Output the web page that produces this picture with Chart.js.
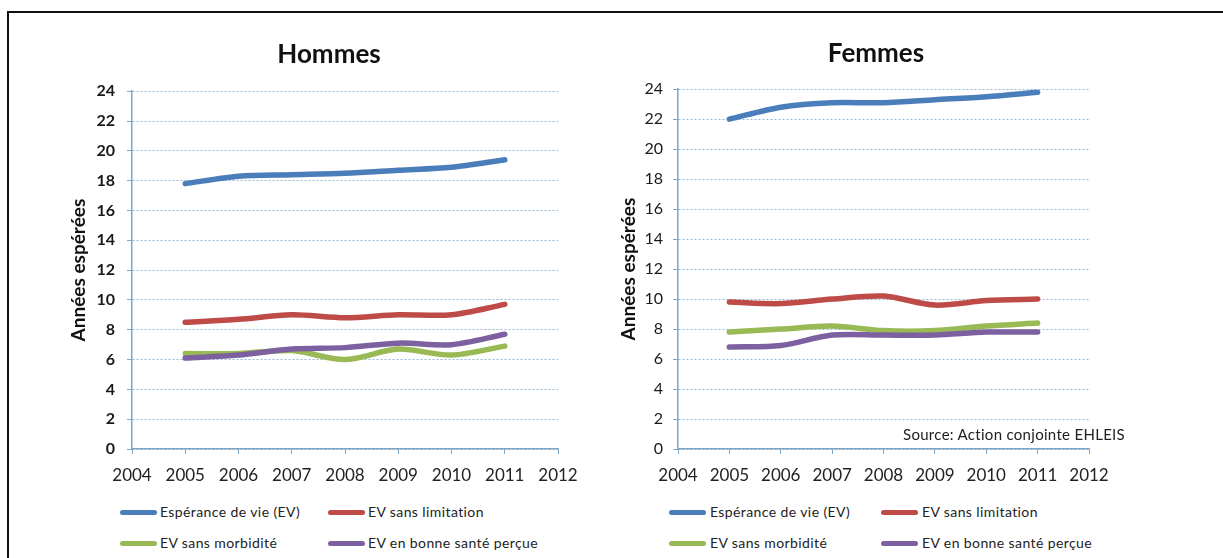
<!DOCTYPE html>
<html>
<head>
<meta charset="utf-8">
<script src="https://cdn.jsdelivr.net/npm/chart.js@4"></script>
<style>
  html, body { margin: 0; padding: 0; background: #fff; width: 1223px; height: 558px; overflow: hidden; }
  #frame { position: absolute; left: 7px; top: 11px; width: 1300px; height: 600px; border-top: 2px solid #111; border-left: 2px solid #111; }
  canvas { position: absolute; }
  .leg { position: absolute; font-family: Lato, "Liberation Sans", sans-serif; font-size: 14px; letter-spacing: 0.4px; color: #222; white-space: nowrap; }
  .sw { position: absolute; height: 5px; border-radius: 3px; }
  #source { position: absolute; left: 903px; top: 425px; font-family: Lato, "Liberation Sans", sans-serif; font-size: 15px; letter-spacing: 0.3px; color: #222; white-space: nowrap; }
</style>
</head>
<body>
<div id="frame"></div>
<canvas id="cH" width="591" height="490" style="left:0px;top:0px;width:591px;height:490px"></canvas>
<canvas id="cF" width="524" height="490" style="left:611px;top:0px;width:524px;height:490px"></canvas>
<div id="source">Source: Action conjointe EHLEIS</div>
<div id="legends"></div>
<script>
const years = [2005, 2006, 2007, 2008, 2009, 2010, 2011];
const seriesNames = ["Espérance de vie (EV)", "EV sans limitation", "EV sans morbidité", "EV en bonne santé perçue"];
const seriesColors = ["#4a7ebb", "#be4b48", "#98b954", "#7d60a0"];

const hommesEV      = [17.8, 18.3, 18.4, 18.5, 18.7, 18.9, 19.4];
const hommesSansLim = [8.5, 8.7, 9.0, 8.8, 9.0, 9.0, 9.7];
const hommesSansMor = [6.4, 6.4, 6.6, 6.0, 6.7, 6.3, 6.9];
const hommesBonne   = [6.1, 6.3, 6.7, 6.8, 7.1, 7.0, 7.7];

const femmesEV      = [22.0, 22.8, 23.1, 23.1, 23.3, 23.5, 23.8];
const femmesSansLim = [9.8, 9.7, 10.0, 10.2, 9.6, 9.9, 10.0];
const femmesSansMor = [7.8, 8.0, 8.2, 7.9, 7.9, 8.2, 8.4];
const femmesBonne   = [6.8, 6.9, 7.6, 7.6, 7.6, 7.8, 7.8];

const xMin = 2004, xMax = 2012;
const yMin = 0, yMax = 24, yStep = 2;

const FONT = "Lato, 'Liberation Sans', sans-serif";
const axisColor = "#7fa6c6";
const gridColor = "#93b9d6";

function makeDatasets(arrs) {
  return arrs.map((vals, i) => ({
    label: seriesNames[i],
    data: years.map((yr, k) => ({ x: yr, y: vals[k] })),
    borderColor: seriesColors[i],
    backgroundColor: seriesColors[i],
    borderWidth: 5.5,
    pointRadius: 0,
    tension: 0.3,
    borderCapStyle: 'round',
    borderJoinStyle: 'round',
    fill: false
  })).reverse();
}

function makeChart(id, title, arrs, cfg) {
  return new Chart(document.getElementById(id), {
    type: 'line',
    data: { datasets: makeDatasets(arrs) },
    options: {
      responsive: false,
      animation: false,
      layout: { padding: { left: cfg.padLeft, right: 0, top: 0, bottom: 0 } },
      plugins: {
        legend: { display: false },
        tooltip: { enabled: false },
        title: {
          display: true, text: title, color: '#111',
          font: { family: FONT, size: 26, weight: 'bold' },
          padding: { top: cfg.titleTop, bottom: cfg.titleBottom }
        }
      },
      scales: {
        x: {
          type: 'linear', min: xMin, max: xMax,
          afterFit: s => { s.height = 41; },
          ticks: { stepSize: 1, color: '#222', padding: 11, font: { family: FONT, size: 17 }, callback: v => String(v) },
          grid: { drawOnChartArea: false, drawTicks: true, tickLength: 5, tickColor: axisColor },
          border: { display: true, color: axisColor, width: 1.5 }
        },
        y: {
          min: yMin, max: yMax,
          afterFit: s => { s.width = cfg.yWidth; },
          ticks: { stepSize: yStep, color: '#1a1a1a', padding: cfg.tickPad, font: { family: FONT, size: 16, weight: cfg.tickWeight } },
          grid: { color: gridColor, lineWidth: 1, tickLength: 5, tickColor: axisColor, tickBorderDash: [] },
          border: { display: true, color: axisColor, width: 1.5, dash: [2, 2] },
          title: { display: true, text: 'Années espérées', color: '#111', padding: 0, font: { family: FONT, size: 19, weight: 'bold' } }
        },
        yR: {
          position: 'right', display: true,
          afterFit: s => { s.width = cfg.rightW; },
          ticks: { display: false }, grid: { display: false, drawTicks: false }, border: { display: false }
        }
      }
    }
  });
}

makeChart('cH', 'Hommes', [hommesEV, hommesSansLim, hommesSansMor, hommesBonne],
  { padLeft: 67, yWidth: 65, rightW: 33, titleTop: 39, titleBottom: 21, tickPad: 12, tickWeight: 'bold' });
makeChart('cF', 'Femmes', [femmesEV, femmesSansLim, femmesSansMor, femmesBonne],
  { padLeft: 6, yWidth: 61, rightW: 46, titleTop: 38, titleBottom: 20, tickPad: 10, tickWeight: 'normal' });

// Legends (2 x 2 grid under each chart)
const legendLayouts = [
  { cols: [120, 328], textGap: 40 },
  { cols: [669, 881], textGap: 41 }
];
const legendRows = [512, 543];
const container = document.getElementById('legends');
legendLayouts.forEach(L => {
  seriesNames.forEach((name, i) => {
    const cx = L.cols[i % 2];
    const cy = legendRows[Math.floor(i / 2)];
    const sw = document.createElement('div');
    sw.className = 'sw';
    sw.style.left = cx + 'px';
    sw.style.top = (cy - 2.5) + 'px';
    sw.style.width = '37px';
    sw.style.background = seriesColors[i];
    container.appendChild(sw);
    const t = document.createElement('div');
    t.className = 'leg';
    t.textContent = name;
    t.style.left = (cx + L.textGap) + 'px';
    t.style.top = (cy - 9) + 'px';
    container.appendChild(t);
  });
});
</script>
</body>
</html>
